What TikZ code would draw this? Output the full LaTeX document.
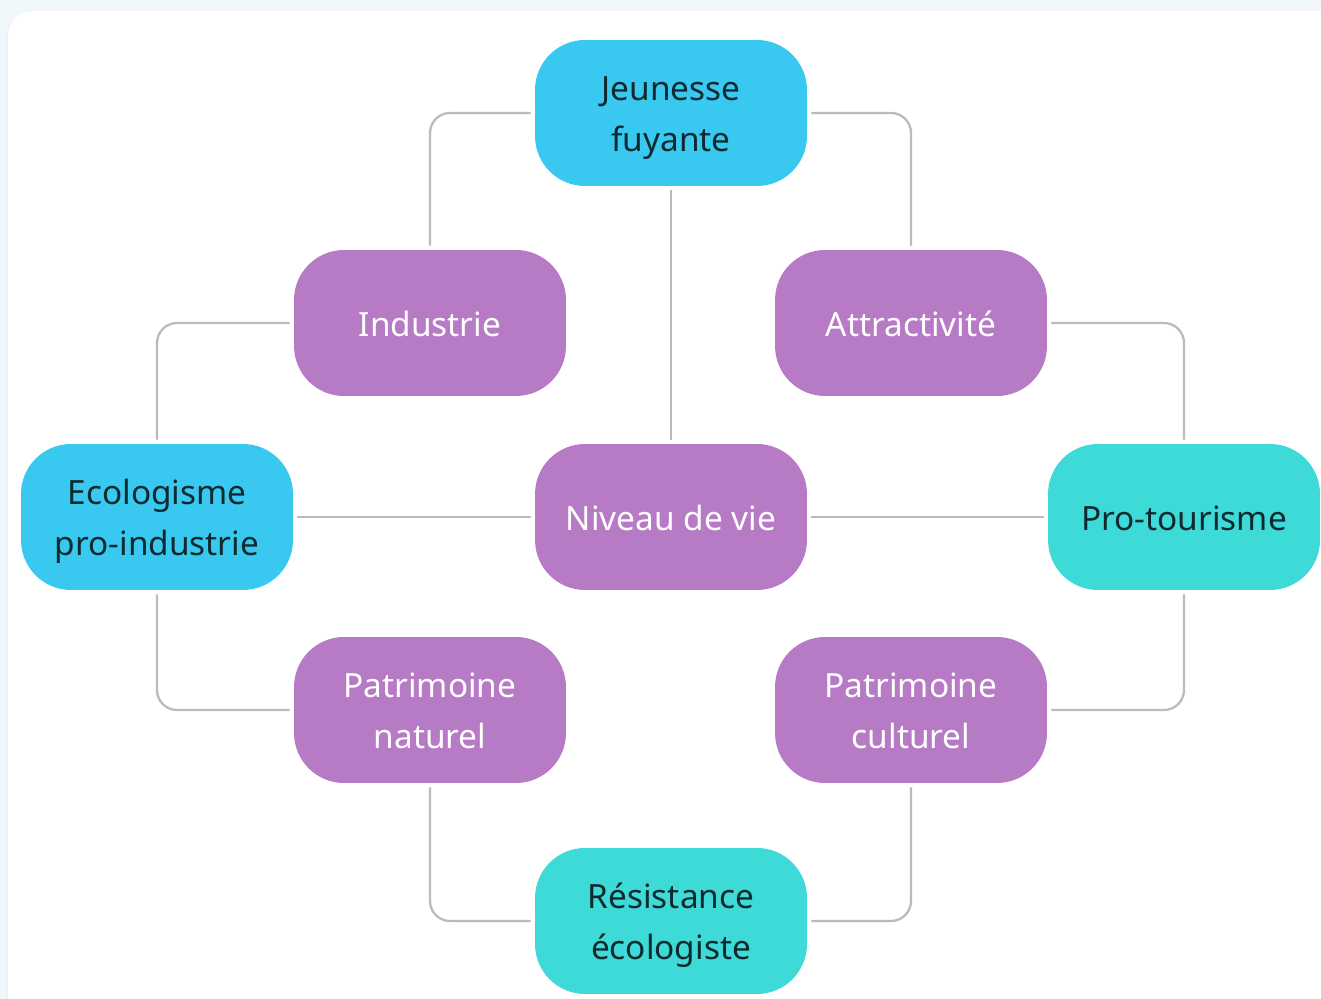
\documentclass[tikz,border=0pt]{standalone}
\usepackage{fontspec}
\setmainfont{Noto Sans}
\definecolor{BgClr}{HTML}{F1F8FC}
\definecolor{CyanClr}{HTML}{38C8F0}
\definecolor{PurpleClr}{HTML}{B77BC6}
\definecolor{TealClr}{HTML}{3DDAD7}
\definecolor{LinkClr}{HTML}{BBBBBB}
\definecolor{InkClr}{HTML}{0F2A2E}
\newcommand\topfix{\rule{0pt}{0.82\baselineskip}}
\newcommand\botfix{\rule[-0.3\baselineskip]{0pt}{0.3\baselineskip}}
\tikzset{
  box/.style={rectangle,rounded corners=1cm,minimum width=5.44cm,minimum height=2.92cm,
    inner sep=0pt,align=center,font=\fontsize{19}{28.5}\selectfont},
  cyanbox/.style={box,fill=CyanClr,text=InkClr},
  purplebox/.style={box,fill=PurpleClr,text=white},
  tealbox/.style={box,fill=TealClr,text=InkClr},
  link/.style={draw=LinkClr,line width=1.3pt,rounded corners=0.4cm,shorten <=0.08cm,shorten >=0.08cm}
}

\begin{document}
\begin{tikzpicture}[x=0.02cm,y=-0.02cm]
\useasboundingbox (0,0) rectangle (1321,999);
\fill[BgClr] (0,0) rectangle (1321,999);
\fill[black!6,rounded corners=0.55cm] (6,11) rectangle (1360,1040);
\fill[white,rounded corners=0.5cm] (8,11) rectangle (1360,1040);

% nodes
\node[cyanbox] (jeune) at (671,113) {\topfix Jeunesse\\fuyante\botfix};
\node[purplebox] (indus) at (430,323) {\topfix Industrie\botfix};
\node[purplebox] (attra) at (911,323) {\topfix Attractivité\botfix};
\node[cyanbox] (ecolo) at (157,517) {\topfix Ecologisme\\pro-industrie\botfix};
\node[purplebox] (niveau) at (671,517) {\topfix Niveau de vie\botfix};
\node[tealbox] (protour) at (1184,517) {\topfix Pro-tourisme\botfix};
\node[purplebox] (patnat) at (430,710) {\topfix Patrimoine\\naturel\botfix};
\node[purplebox] (patcul) at (911,710) {\topfix Patrimoine\\culturel\botfix};
\node[tealbox] (resist) at (671,921) {\topfix Résistance\\écologiste\botfix};

% links
\draw[link] (jeune.west) -| (indus.north);
\draw[link] (jeune.east) -| (attra.north);
\draw[link] (jeune.south) -- (niveau.north);
\draw[link] (indus.west) -| (ecolo.north);
\draw[link] (attra.east) -| (protour.north);
\draw[link] (ecolo.east) -- (niveau.west);
\draw[link] (niveau.east) -- (protour.west);
\draw[link] (ecolo.south) |- (patnat.west);
\draw[link] (protour.south) |- (patcul.east);
\draw[link] (patnat.south) |- (resist.west);
\draw[link] (patcul.south) |- (resist.east);
\end{tikzpicture}
\end{document}
